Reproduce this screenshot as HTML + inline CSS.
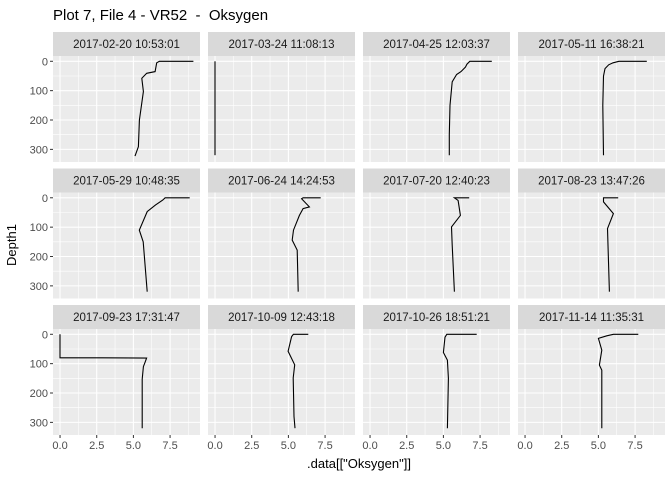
<!DOCTYPE html>
<html><head><meta charset="utf-8"><style>
body{margin:0;background:#fff;}
svg{display:block;font-family:"Liberation Sans",Arial,sans-serif;}
</style></head><body>
<svg id="c" width="672" height="480">
<text x="53" y="20" font-size="15" fill="#000" style="white-space:pre" xml:space="preserve">Plot 7, File 4 - VR52  -  Oksygen</text>
<text x="359" y="468" font-size="13" text-anchor="middle" fill="#000">.data[["Oksygen"]]</text>
<text transform="translate(16,245) rotate(-90)" font-size="13" text-anchor="middle" fill="#000">Depth1</text>
</svg>
<script>
const facets=["2017-02-20 10:53:01","2017-03-24 11:08:13","2017-04-25 12:03:37","2017-05-11 16:38:21","2017-05-29 10:48:35","2017-06-24 14:24:53","2017-07-20 12:40:23","2017-08-23 13:47:26","2017-09-23 17:31:47","2017-10-09 12:43:18","2017-10-26 18:51:21","2017-11-14 11:35:31"];
const xTicks=[0,2.5,5,7.5];
const xTickLabels=["0.0","2.5","5.0","7.5"];
const yTicks=[0,100,200,300];
const depths=[
[0,0,5,35,41,58,103,200,291,323],
[0,320],
[0,0,10,20,35,45,70,150,250,320],
[0,0,5,12,25,50,150,320],
[0,0,8,25,47,110,150,320],
[0,0,3,31,37,60,110,144,178,320],
[0,0,9,60,99,161,320],
[0,0,14,54,105,320],
[0,80,80,81,95,110,153,320],
[0,0,8,58,104,149,280,320],
[0,0,10,62,88,150,320],
[0,0,5,14,54,105,122,320]];
const oxy=[
[9.09,6.77,6.59,6.48,5.91,5.57,5.68,5.41,5.34,5.11],
[0,0],
[8.3,6.8,6.6,6.5,6.2,5.9,5.6,5.45,5.4,5.4],
[8.3,6.4,6.0,5.7,5.45,5.35,5.3,5.35],
[8.84,7.16,7.0,6.5,5.94,5.4,5.67,5.94],
[7.2,6.0,5.9,6.43,6.0,5.75,5.35,5.26,5.6,5.67],
[6.76,5.75,6.0,6.16,5.55,5.6,5.75],
[6.35,5.35,5.35,6.02,5.62,5.75],
[0,0,2.9,5.9,5.8,5.68,5.6,5.6],
[6.36,5.34,5.22,4.98,5.43,5.33,5.38,5.45],
[7.27,5.23,5.11,5.0,5.27,5.34,5.27],
[7.72,6.02,5.57,5.0,5.23,5.07,5.23,5.23]];
const NS="http://www.w3.org/2000/svg";
const svg=document.getElementById('c');
const colL=[53,208,363,518], rowT=[56,192.5,329], PW=147, PH=106;
const xmin=-0.48,xmax=9.54,ymin=-18,ymax=343;
function mk(t,a,p){const e=document.createElementNS(NS,t);for(const k in a)e.setAttribute(k,a[k]);(p||svg).appendChild(e);return e;}
facets.forEach((f,i)=>{
 const c=i%4,r=Math.floor(i/4),L=colL[c],T=rowT[r];
 const sx=v=>L+(v-xmin)/(xmax-xmin)*PW, sy=d=>T+(d-ymin)/(ymax-ymin)*PH;
 const g=mk('g',{});
 
 
 const st=mk('rect',{x:L,y:T-24,width:PW,height:24,fill:'#D9D9D9'},g);
 
 
 const tx=mk('text',{x:L+PW/2,y:T-8,'font-size':'11.5','text-anchor':'middle',fill:'#1A1A1A'},g);tx.textContent=f;
 
 
 mk('rect',{x:L,y:T,width:PW,height:PH,fill:'#EBEBEB'},g);
 [1.25,3.75,6.25,8.75].forEach(v=>mk('line',{x1:sx(v),x2:sx(v),y1:T,y2:T+PH,stroke:'#fff','stroke-width':0.55},g));
 [50,150,250].forEach(v=>mk('line',{x1:L,x2:L+PW,y1:sy(v),y2:sy(v),stroke:'#fff','stroke-width':0.55},g));
 xTicks.forEach(v=>mk('line',{x1:sx(v),x2:sx(v),y1:T,y2:T+PH,stroke:'#fff','stroke-width':1.1},g));
 yTicks.forEach(v=>mk('line',{x1:L,x2:L+PW,y1:sy(v),y2:sy(v),stroke:'#fff','stroke-width':1.1},g));
 if(c==0) yTicks.forEach(v=>{mk('line',{x1:L-3,x2:L,y1:sy(v),y2:sy(v),stroke:'#333'});const t=mk('text',{x:L-5,y:sy(v)+4,'font-size':'11','text-anchor':'end',fill:'#4D4D4D'});t.textContent=v;
  
  });
 if(r==2) xTicks.forEach((v,k)=>{mk('line',{x1:sx(v),x2:sx(v),y1:T+PH,y2:T+PH+3,stroke:'#333'});const t=mk('text',{x:sx(v),y:T+PH+14,'font-size':'11','text-anchor':'middle',fill:'#4D4D4D'});t.textContent=xTickLabels[k];
  
  });
 const pts=depths[i].map((d,k)=>sx(oxy[i][k]).toFixed(1)+','+sy(d).toFixed(1)).join(' ');
 const pl=mk('polyline',{points:pts,fill:'none',stroke:'#000','stroke-width':1.1},g);
 
 
});
</script>
</body></html>
